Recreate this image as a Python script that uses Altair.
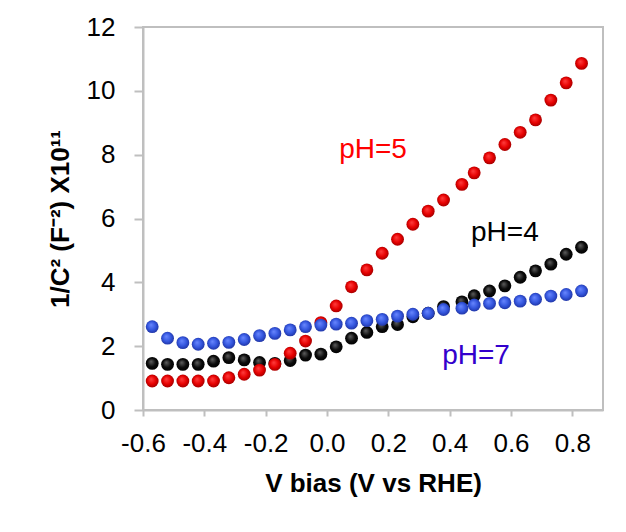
import altair as alt
import pandas as pd

# ---- data ----
v_bias = [-0.57, -0.52, -0.47, -0.42, -0.37, -0.32, -0.27, -0.22, -0.17, -0.12,
          -0.07, -0.02, 0.03, 0.08, 0.13, 0.18, 0.23, 0.28, 0.33, 0.38,
          0.44, 0.48, 0.53, 0.58, 0.63, 0.68, 0.73, 0.78, 0.83]
ph4 = [1.46, 1.43, 1.43, 1.43, 1.53, 1.64, 1.57, 1.49, 1.46, 1.55,
       1.72, 1.75, 1.98, 2.25, 2.43, 2.61, 2.68, 2.92, 3.03, 3.24,
       3.39, 3.58, 3.73, 3.89, 4.16, 4.36, 4.57, 4.88, 5.10]
ph5 = [0.91, 0.91, 0.91, 0.91, 0.91, 1.01, 1.12, 1.25, 1.43, 1.78,
       2.16, 2.74, 3.26, 3.86, 4.39, 4.91, 5.35, 5.82, 6.23, 6.58,
       7.07, 7.43, 7.90, 8.32, 8.70, 9.09, 9.71, 10.25, 10.86]
ph7 = [2.61, 2.25, 2.11, 2.06, 2.09, 2.12, 2.21, 2.33, 2.40, 2.51,
       2.61, 2.66, 2.69, 2.72, 2.80, 2.84, 2.94, 3.00, 3.03, 3.15,
       3.19, 3.29, 3.34, 3.36, 3.41, 3.47, 3.57, 3.62, 3.73]

label_text = ["pH=5", "pH=4", "pH=7"]
label_v = [0.15, 0.58, 0.486]
label_c = [8.15, 5.56, 1.68]
label_colors = ["#FF0000", "#000000", "#3300CC"]

x_ticks = [-0.6, -0.4, -0.2, 0.0, 0.2, 0.4, 0.6, 0.8]
y_ticks = [0, 2, 4, 6, 8, 10, 12]

rows = []
for name, vals in (("pH=4", ph4), ("pH=5", ph5), ("pH=7", ph7)):
    for v, c in zip(v_bias, vals):
        rows.append({"series": name, "V": v, "C": c})
df = pd.DataFrame(rows)
labels_df = pd.DataFrame({"text": label_text, "V": label_v, "C": label_c, "col": label_colors})

FONT = "Liberation Sans"
GRAY = "#BFBFBF"

xenc = alt.X("V:Q",
             scale=alt.Scale(domain=[-0.6, 0.9], nice=False, zero=False),
             axis=alt.Axis(values=x_ticks, grid=False, labelOverlap=False, labelFlush=False,
                           labelExpr="replace(format(datum.value, '.1f'), '\u2212', '-')",
                           labelFont=FONT, labelFontSize=26, labelColor="#000000",
                           labelPadding=14, tickSize=6, tickColor=GRAY, tickWidth=2,
                           domainColor=GRAY, domainWidth=2,
                           title="V bias (V vs RHE)", titleFont=FONT, titleFontSize=26,
                           titleFontWeight="bold", titleColor="#000000", titlePadding=14))
yenc = alt.Y("C:Q",
             scale=alt.Scale(domain=[0, 12], nice=False),
             axis=alt.Axis(values=y_ticks, grid=False, format="d", labelOverlap=False,
                           labelFlush=False,
                           labelFont=FONT, labelFontSize=26, labelColor="#000000",
                           labelPadding=19, tickSize=9, tickColor=GRAY, tickWidth=2,
                           domainColor=GRAY, domainWidth=2,
                           title="1/C\u00b2 (F\u207b\u00b2) X10\u00b9\u00b9", titleFont=FONT,
                           titleFontSize=26, titleFontWeight="bold", titleColor="#000000",
                           titlePadding=13))


def sphere(light, mid, dark):
    return alt.RadialGradient(
        gradient="radial",
        stops=[alt.GradientStop(color=light, offset=0),
               alt.GradientStop(color=mid, offset=0.55),
               alt.GradientStop(color=dark, offset=1)],
        x1=0.4, y1=0.35, r1=0, x2=0.5, y2=0.5, r2=0.6)


base = alt.Chart(df)
black = base.transform_filter(alt.datum.series == "pH=4").mark_circle(
    size=165, opacity=1, fill=sphere("#606060", "#0A0A0A", "#000000")).encode(x=xenc, y=yenc)
red = base.transform_filter(alt.datum.series == "pH=5").mark_circle(
    size=165, opacity=1, fill=sphere("#FF4040", "#E60000", "#8A0000")).encode(x=xenc, y=yenc)
blue = base.transform_filter(alt.datum.series == "pH=7").mark_circle(
    size=165, opacity=1, fill=sphere("#6A88FF", "#3355DD", "#1A2A90")).encode(x=xenc, y=yenc)

texts = alt.Chart(labels_df).mark_text(
    font=FONT, fontSize=28, align="center", baseline="middle").encode(
    x="V:Q", y="C:Q", text="text:N",
    color=alt.Color("col:N", scale=None))

chart = alt.layer(black, red, blue, texts).properties(
    width=460, height=383,
    autosize=alt.AutoSizeParams(type="none"),
    padding={"left": 143, "top": 27, "right": 23, "bottom": 122},
    background="white",
).configure_view(stroke=GRAY, strokeWidth=2)

chart.save("out.html", embed_options={"renderer": "svg", "actions": False})
